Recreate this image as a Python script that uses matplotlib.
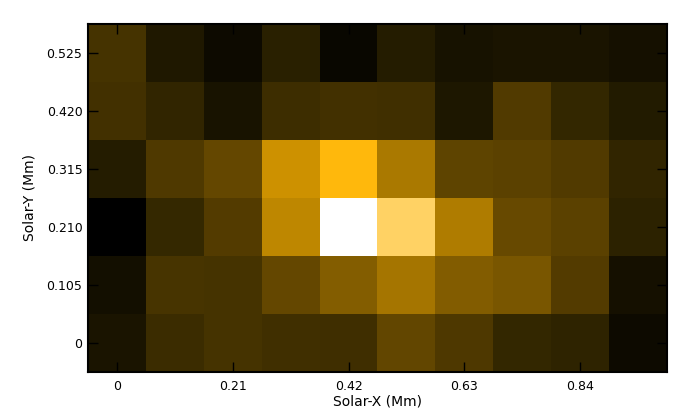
import numpy as np
import matplotlib
matplotlib.use("Agg")
import matplotlib.pyplot as plt
from matplotlib.colors import LinearSegmentedColormap

# pixel grid (Mm), 0.105 Mm per pixel
x_centers = [0.0, 0.105, 0.21, 0.315, 0.42, 0.525, 0.63, 0.735, 0.84, 0.945]
y_centers = [0.0, 0.105, 0.21, 0.315, 0.42, 0.525]
x_ticks = [0, 0.21, 0.42, 0.63, 0.84]
x_ticklabels = ["0", "0.21", "0.42", "0.63", "0.84"]
y_ticks = [0, 0.105, 0.21, 0.315, 0.42, 0.525]
y_ticklabels = ["0", "0.105", "0.210", "0.315", "0.420", "0.525"]

# normalised intensity, rows from y=0 upwards
row_000 = [0.066, 0.141, 0.165, 0.155, 0.151, 0.231, 0.184, 0.122, 0.113, 0.033]
row_105 = [0.047, 0.169, 0.165, 0.235, 0.311, 0.388, 0.306, 0.287, 0.198, 0.052]
row_210 = [0.000, 0.127, 0.198, 0.447, 1.000, 0.757, 0.412, 0.245, 0.216, 0.108]
row_315 = [0.089, 0.188, 0.235, 0.482, 0.620, 0.400, 0.226, 0.216, 0.193, 0.118]
row_420 = [0.160, 0.118, 0.061, 0.146, 0.160, 0.155, 0.071, 0.193, 0.122, 0.085]
row_525 = [0.165, 0.075, 0.033, 0.099, 0.024, 0.089, 0.056, 0.066, 0.066, 0.052]

intensity = np.array([row_000, row_105, row_210, row_315, row_420, row_525])

# gold (AIA 171-like) colour table
cmap = LinearSegmentedColormap.from_list("gold", [
    (0.0, (0, 0, 0)),
    (0.1, (42/255, 33/255, 0)),
    (0.2, (85/255, 61/255, 0)),
    (0.6, (1, 181/255, 0)),
    (1.0, (1, 1, 1)),
])

dx = x_centers[1] - x_centers[0]
dy = y_centers[1] - y_centers[0]
extent = [x_centers[0] - dx/2, x_centers[-1] + dx/2,
          y_centers[0] - dy/2, y_centers[-1] + dy/2]

fig = plt.figure(figsize=(7, 4.2), dpi=100)
ax = fig.add_axes([88/700, 1 - 372/420, 579/700, 348/420])
ax.imshow(intensity, origin="lower", cmap=cmap, vmin=0, vmax=1,
          extent=extent, aspect="auto", interpolation="nearest")

ax.set_xticks(x_ticks)
ax.set_xticklabels(x_ticklabels)
ax.set_yticks(y_ticks)
ax.set_yticklabels(y_ticklabels)
ax.tick_params(direction="in", length=7, width=1, color="black",
               top=True, right=True, labelsize=9, pad=6)
ax.tick_params(axis="y", pad=4)
for s in ax.spines.values():
    s.set_linewidth(1.5)
    s.set_color("black")

ax.set_xlabel("Solar-X (Mm)", fontsize=10, labelpad=1)
ax.set_ylabel("Solar-Y (Mm)", fontsize=10, labelpad=7)

fig.savefig("out.png", dpi=100)
